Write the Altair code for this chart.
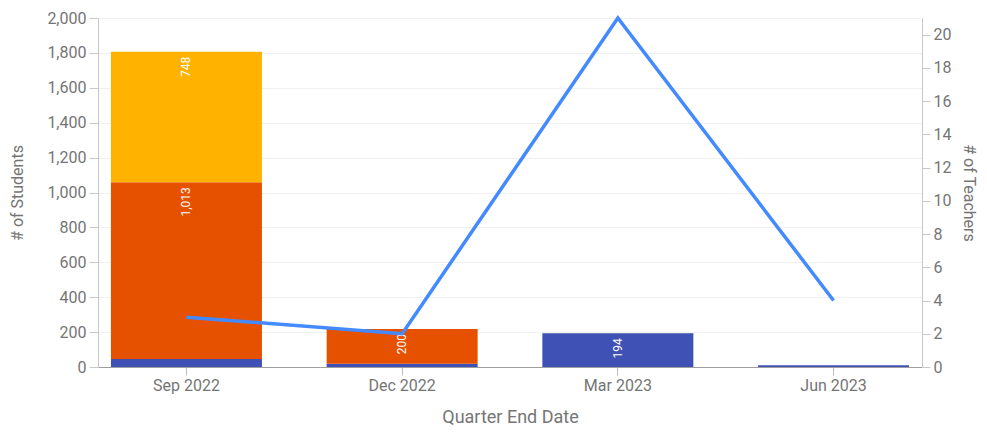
import altair as alt
import pandas as pd

quarters = ["Sep 2022", "Dec 2022", "Mar 2023", "Jun 2023"]
series = ["Group A", "Group B", "Group C"]
group_a = [46, 18, 194, 10]
group_b = [1013, 200, 0, 0]
group_c = [748, 0, 0, 0]
teachers = [3, 2, 21, 4]
colors = ["#3F51B5", "#E65100", "#FFB300"]

rows = []
for i, q in enumerate(quarters):
    for j, vals in enumerate([group_a, group_b, group_c]):
        if vals[i] > 0:
            rows.append({"quarter": q, "series": series[j], "order": j, "students": vals[i]})
bars_df = pd.DataFrame(rows)
line_df = pd.DataFrame({"quarter": quarters, "teachers": teachers})

FONT = "Roboto"
GREY = "#757575"

x_enc = alt.X(
    "quarter:N",
    sort=quarters,
    scale=alt.Scale(paddingInner=0.3, paddingOuter=0.06),
    axis=alt.Axis(
        title="Quarter End Date",
        labelAngle=0,
        labelFontSize=16,
        titleFontSize=18,
        tickSize=8,
        labelPadding=2,
        titlePadding=15,
        domainColor="#9e9e9e",
        tickColor="#bdbdbd",
        grid=False,
    ),
)

y_left_axis = alt.Axis(
    title="# of Students",
    values=list(range(0, 2001, 200)),
    labelExpr="format(datum.value, ',')",
    labelFontSize=16,
    titleFontSize=16,
    tickSize=9,
    labelPadding=3,
    titlePadding=21,
    domainColor="#c8c8c8",
    tickColor="#c8c8c8",
    grid=True,
    gridColor="#f0f0f0",
)

bars = alt.Chart(bars_df).mark_bar().encode(
    x=x_enc,
    y=alt.Y("students:Q", stack="zero", scale=alt.Scale(domain=[0, 2000], nice=False), axis=y_left_axis),
    color=alt.Color("series:N", scale=alt.Scale(domain=series, range=colors), legend=None),
    order=alt.Order("order:Q", sort="ascending"),
)

labels = alt.Chart(bars_df).transform_stack(
    stack="students",
    groupby=["quarter"],
    as_=["y0", "y1"],
    sort=[alt.SortField("order", order="ascending")],
).transform_filter(
    alt.datum.students >= 100
).mark_text(
    angle=270, align="right", baseline="middle", dx=-5, color="white", fontSize=12, font=FONT
).encode(
    x=alt.X("quarter:N", sort=quarters),
    y=alt.Y("y1:Q", axis=y_left_axis),
    text=alt.Text("students:Q", format=","),
)

line = alt.Chart(line_df).mark_line(color="#448AFF", strokeWidth=3.5).encode(
    x=alt.X("quarter:N", sort=quarters),
    y=alt.Y(
        "teachers:Q",
        scale=alt.Scale(domain=[0, 21], nice=False),
        axis=alt.Axis(
            orient="right",
            title="# of Teachers",
            values=list(range(0, 21, 2)),
            labelFontSize=16,
            titleFontSize=16,
            tickSize=8,
            labelPadding=3,
            titlePadding=10,
            domainColor="#c8c8c8",
            tickColor="#c8c8c8",
            grid=False,
        ),
    ),
)

chart = alt.layer(alt.layer(bars, labels), line).resolve_scale(y="independent").properties(
    width=824,
    height=349,
    autosize=alt.AutoSizeParams(type="none"),
    padding={"left": 90, "top": 10, "right": 57, "bottom": 59},
).configure_view(stroke=None).configure_axis(
    labelFont=FONT,
    titleFont=FONT,
    labelColor=GREY,
    titleColor=GREY,
    titleFontWeight="normal",
)

chart.save("out.html", embed_options={"renderer": "svg", "actions": False})
